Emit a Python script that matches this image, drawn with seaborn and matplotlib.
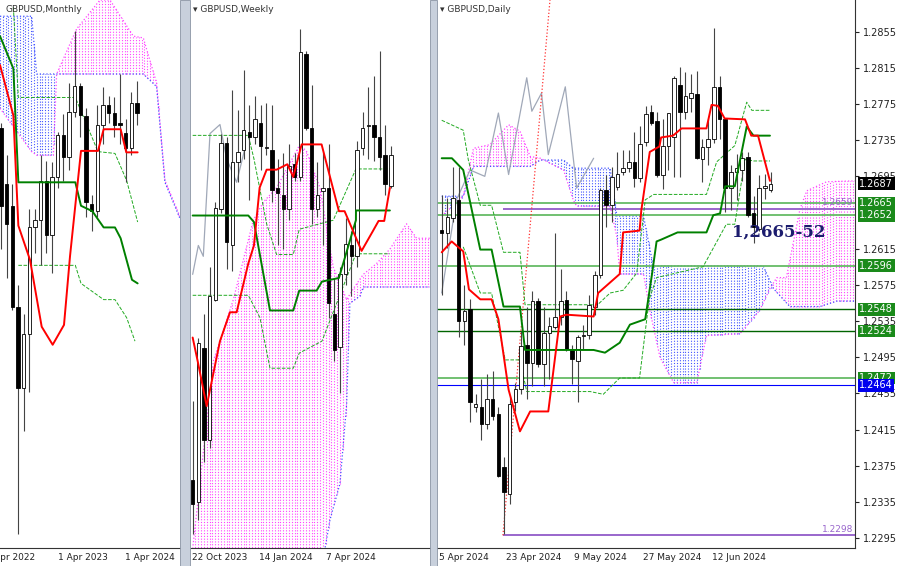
import numpy as np
import matplotlib
matplotlib.use("Agg")
import matplotlib.pyplot as plt
import matplotlib.transforms as mtransforms
import seaborn as sns

sns.set_style("white")
plt.rcParams['font.family'] = ['DejaVu Sans']

# ---------------- monthly ----------------
m_open  = [1.259, 1.228, 1.216, 1.160, 1.115, 1.145, 1.204, 1.208, 1.230, 1.200, 1.232, 1.255, 1.243,
           1.268, 1.2824, 1.266, 1.217, 1.213, 1.261, 1.2716, 1.2676, 1.262, 1.2564, 1.248, 1.273]
m_close = [1.216, 1.206, 1.160, 1.115, 1.145, 1.204, 1.208, 1.230, 1.200, 1.232, 1.255, 1.243, 1.268,
           1.2824, 1.2664, 1.218, 1.213, 1.261, 1.272, 1.2676, 1.261, 1.261, 1.248, 1.273, 1.2676]
m_high  = [1.262, 1.244, 1.228, 1.172, 1.156, 1.214, 1.214, 1.244, 1.241, 1.240, 1.257, 1.267, 1.284,
           1.313, 1.284, 1.270, 1.222, 1.272, 1.282, 1.277, 1.276, 1.289, 1.264, 1.279, 1.285]
m_low   = [1.192, 1.176, 1.158, 1.034, 1.091, 1.113, 1.190, 1.183, 1.190, 1.179, 1.226, 1.230, 1.236,
           1.265, 1.254, 1.210, 1.202, 1.210, 1.250, 1.262, 1.254, 1.250, 1.229, 1.244, 1.261]
m_tenkan_x = [-0.18, 2.18, 3.06, 5.12, 7.18, 9.12, 11.12, 12.18, 14.12, 17.12, 18.12, 21.12, 22.12, 24.12]
m_tenkan_y = [1.294, 1.266, 1.205, 1.186, 1.149, 1.139, 1.150, 1.188, 1.2464, 1.2464, 1.2584, 1.2584, 1.2456, 1.2456]
m_kijun_x = [-0.18, 2.18, 3.06, 13.12, 14.12, 16.12, 18.12, 20.12, 21.12, 23.12, 24.12]
m_kijun_y = [1.31, 1.292, 1.229, 1.229, 1.216, 1.213, 1.204, 1.204, 1.198, 1.175, 1.173]
m_up_x = [2.18, 3.06, 13.12, 15.12, 17.12, 20.12, 22.18, 24.12]
m_up_y = [1.326, 1.276, 1.276, 1.261, 1.246, 1.245, 1.230, 1.207]
m_lo_x = [3.06, 13.12, 14.12, 18.12, 20.12, 22.18, 23.65]
m_lo_y = [1.183, 1.183, 1.173, 1.164, 1.164, 1.154, 1.141]
m_cloud_x = [-0.18, 5.41, 6.29, 9.24, 9.82, 13.35, 17.47, 19.24, 23.35, 25.12, 27.47, 28.94, 31.59]
m_span_a = [1.27, 1.246, 1.244, 1.244, 1.289, 1.314, 1.33, 1.33, 1.31, 1.309, 1.284, 1.23, 1.21]
m_span_b = [1.321, 1.321, 1.289, 1.289, 1.289, 1.289, 1.289, 1.289, 1.289, 1.289, 1.282, 1.229, 1.209]

# ---------------- weekly ----------------
w_open  = [1.167, 1.161, 1.2035, 1.178, 1.217, 1.242, 1.2605, 1.232, 1.255, 1.2585, 1.2635, 1.262, 1.266, 1.259,
           1.2585, 1.248, 1.246, 1.242, 1.2545, 1.251, 1.285, 1.2645, 1.242, 1.247, 1.248, 1.213, 1.204, 1.224,
           1.232, 1.229, 1.259, 1.265, 1.2655, 1.262, 1.257, 1.2485]
w_close = [1.1605, 1.205, 1.178, 1.218, 1.2425, 1.2605, 1.233, 1.255, 1.258, 1.264, 1.262, 1.267, 1.2595, 1.2592,
           1.2475, 1.2465, 1.242, 1.254, 1.251, 1.2855, 1.2645, 1.242, 1.246, 1.248, 1.216, 1.203, 1.224, 1.2325,
           1.229, 1.2585, 1.2645, 1.2655, 1.262, 1.2565, 1.249, 1.257]
w_high  = [1.189, 1.2065, 1.213, 1.226, 1.244, 1.263, 1.262, 1.275, 1.2695, 1.2805, 1.271, 1.2735, 1.271, 1.2715,
           1.271, 1.256, 1.2575, 1.26, 1.2575, 1.292, 1.286, 1.2765, 1.255, 1.258, 1.26, 1.223, 1.226, 1.2395,
           1.236, 1.261, 1.269, 1.276, 1.279, 1.286, 1.2655, 1.2595]
w_low   = [1.152, 1.156, 1.172, 1.176, 1.2165, 1.241, 1.2255, 1.225, 1.2495, 1.256, 1.2445, 1.26, 1.253, 1.257,
           1.244, 1.232, 1.231, 1.239, 1.25, 1.25, 1.264, 1.238, 1.24, 1.232, 1.212, 1.20, 1.191, 1.221,
           1.218, 1.226, 1.257, 1.256, 1.2555, 1.253, 1.246, 1.248]
w_tenkan_x = [0, 0.88, 2.47, 4.82, 6.59, 7.76, 9.82, 10.82, 11.82, 13.06, 14.82, 16.71, 17.76, 19.24, 22.76,
              25.82, 26.82, 29.82, 31.82, 32.82, 33.82, 34.82]
w_tenkan_y = [1.2065, 1.20, 1.1875, 1.2055, 1.2135, 1.2135, 1.227, 1.232, 1.248, 1.253, 1.253, 1.2545, 1.251,
              1.26, 1.26, 1.2415, 1.2415, 1.2305, 1.236, 1.2388, 1.2388, 1.248]
w_kijun_x = [0, 9.82, 10.82, 13.65, 17.76, 18.82, 21.88, 22.82, 25.82, 28.82, 28.83, 34.82]
w_kijun_y = [1.2403, 1.2403, 1.2385, 1.214, 1.214, 1.2195, 1.2195, 1.222, 1.223, 1.239, 1.2417, 1.2417]
w_chikou_x = [0, 1, 1.88, 3.06, 4.82, 6, 7.76, 9.24]
w_chikou_y = [1.224, 1.232, 1.229, 1.263, 1.2655, 1.256, 1.2495, 1.259]
w_up_x = [0, 9.82, 10.82, 13.06, 14.82, 17.76, 18.82, 24.82, 28.82, 34.82]
w_up_y = [1.2625, 1.2625, 1.256, 1.238, 1.2295, 1.2295, 1.2365, 1.239, 1.2532, 1.2532]
w_lo_x = [0, 9.82, 11.88, 13.65, 17.76, 18.82, 22.82, 28.82, 34.82]
w_lo_y = [1.2182, 1.2182, 1.212, 1.198, 1.198, 1.2022, 1.2055, 1.2297, 1.2297]
w_a_x = [0, 3.65, 7.18, 10.71, 12.47, 14.82, 18.94, 20.12, 22.47, 24.82, 27.18, 28.35, 30.12, 32.47, 34.82,
         37.76, 39.53, 41.88]
w_span_a = [1.148, 1.20, 1.217, 1.239, 1.244, 1.248, 1.26, 1.258, 1.248, 1.226, 1.217, 1.22, 1.224, 1.227,
            1.231, 1.238, 1.234, 1.234]
w_b_x = [0, 22.47, 24.24, 26, 27.18, 27.76, 29.53, 30.12, 41.88]
w_span_b = [1.14, 1.14, 1.156, 1.166, 1.188, 1.216, 1.218, 1.2205, 1.2205]

# ---------------- daily ----------------
d_open  = [1.2636, 1.2632, 1.2649, 1.2669, 1.2535, 1.2548, 1.2440, 1.2440, 1.2421, 1.2449, 1.2432, 1.2374,
           1.2344, 1.2445, 1.2460, 1.2509, 1.2489, 1.2557, 1.2487, 1.2522, 1.2528, 1.2540, 1.2558, 1.2504,
           1.2491, 1.2518, 1.2520, 1.2551, 1.2586, 1.2680, 1.2663, 1.2683, 1.2700, 1.2704, 1.2711, 1.2693,
           1.2733, 1.2766, 1.2756, 1.2696, 1.2729, 1.2738, 1.2796, 1.2766, 1.2782, 1.2786, 1.2714, 1.2727,
           1.2736, 1.2794, 1.2758, 1.2682, 1.2700, 1.2702, 1.2716, 1.2654, 1.2637, 1.2682, 1.2680]
d_close = [1.2632, 1.2650, 1.2671, 1.2535, 1.2546, 1.2445, 1.2443, 1.2421, 1.2449, 1.2430, 1.2364, 1.2346,
           1.2443, 1.2460, 1.2507, 1.2489, 1.2557, 1.2487, 1.2522, 1.2529, 1.2540, 1.2557, 1.2504, 1.2493,
           1.2517, 1.2520, 1.2553, 1.2586, 1.2680, 1.2663, 1.2694, 1.2698, 1.2704, 1.2711, 1.2693, 1.2731,
           1.2764, 1.2754, 1.2696, 1.2729, 1.2765, 1.2804, 1.2766, 1.2784, 1.2787, 1.2715, 1.2727, 1.2736,
           1.2794, 1.2758, 1.2682, 1.2700, 1.2704, 1.2715, 1.2652, 1.2639, 1.2682, 1.2683, 1.2687]
d_high  = [1.2674, 1.2671, 1.2705, 1.2705, 1.2575, 1.2559, 1.2454, 1.2471, 1.2476, 1.2480, 1.2440, 1.2385,
           1.2451, 1.2467, 1.2524, 1.2550, 1.2568, 1.2561, 1.2551, 1.2539, 1.2632, 1.2592, 1.2568, 1.2509,
           1.2520, 1.2531, 1.2564, 1.2590, 1.2682, 1.2696, 1.2705, 1.2722, 1.2724, 1.2724, 1.2744, 1.2751,
           1.2773, 1.2774, 1.2766, 1.2758, 1.2765, 1.2806, 1.2816, 1.2810, 1.2808, 1.2812, 1.2736, 1.2758,
           1.2859, 1.2806, 1.2758, 1.2708, 1.2720, 1.2722, 1.2722, 1.2673, 1.2697, 1.2698, 1.2700]
d_low   = [1.2564, 1.2616, 1.2645, 1.2517, 1.2509, 1.2423, 1.2434, 1.2403, 1.2416, 1.2425, 1.2363, 1.2300,
           1.2333, 1.2436, 1.2454, 1.2449, 1.2463, 1.2484, 1.2463, 1.2471, 1.2526, 1.2531, 1.2502, 1.2465,
           1.2445, 1.2504, 1.2515, 1.2542, 1.2583, 1.2639, 1.2645, 1.2680, 1.2696, 1.2700, 1.2683, 1.2689,
           1.2729, 1.2752, 1.2694, 1.2681, 1.2702, 1.2694, 1.2694, 1.2758, 1.2766, 1.2714, 1.2689, 1.2707,
           1.2732, 1.2736, 1.2656, 1.2658, 1.2669, 1.2690, 1.2650, 1.2621, 1.2635, 1.2670, 1.2678]
d_tenkan_x = [0, 1.76, 3.8, 4.8, 6.8, 8.8, 10, 11.8, 13.8, 15.6, 18.8, 20.9, 22, 26.8, 27.6, 31.4, 32,
              34.9, 35.2, 36.7, 38.4, 38.7, 40.8, 42.3, 46.7, 47.6, 48.7, 49.9, 53.5, 54.6, 55.8, 57.9]
d_tenkan_y = [1.2611, 1.2623, 1.2612, 1.2570, 1.2559, 1.2559, 1.2537, 1.2459, 1.2413, 1.2435, 1.2435, 1.2540,
              1.2542, 1.2540, 1.2566, 1.2587, 1.2633, 1.2635, 1.2657, 1.2722, 1.2728, 1.2738, 1.2740, 1.2748,
              1.2748, 1.2774, 1.2773, 1.2759, 1.2758, 1.2740, 1.2740, 1.2690]
d_kijun_x = [0, 1.8, 3.8, 6.8, 8.8, 10.9, 13.8, 14.7, 26.8, 28.8, 31.4, 33.2, 35.9, 37.1, 37.9, 38.7, 41.6,
             46.7, 47.9, 49.1, 50, 51.7, 53.8, 55, 57.9]
d_kijun_y = [1.2715, 1.2715, 1.2702, 1.2614, 1.2614, 1.2551, 1.2551, 1.2503, 1.2503, 1.2500, 1.2511, 1.2531,
             1.2537, 1.2587, 1.2623, 1.2625, 1.2633, 1.2633, 1.2652, 1.2654, 1.2684, 1.2684, 1.2750, 1.2740,
             1.2740]
d_chikou_x = [0, 2.6, 5, 7.6, 10, 11.8, 15, 15.9, 17.6, 18.8, 21.8, 23.8, 26.8]
d_chikou_y = [1.2566, 1.2669, 1.2702, 1.2695, 1.2765, 1.2697, 1.2804, 1.2767, 1.2787, 1.2719, 1.2794,
              1.2682, 1.2715]
d_up_x = [0, 3.8, 4.7, 6.8, 8.8, 10.9, 13.8, 14.7, 27.5, 29.7, 32, 34.4, 35.9, 37.4, 46.7, 48.5, 51.7,
          53.8, 54.7, 57.9]
d_up_y = [1.2757, 1.2746, 1.2713, 1.2663, 1.2663, 1.2611, 1.2611, 1.2553, 1.2553, 1.2566, 1.2569, 1.2588,
          1.2669, 1.2675, 1.2675, 1.2711, 1.2729, 1.2777, 1.2768, 1.2768]
d_lo_x = [3.8, 6.8, 8.8, 11.2, 13.8, 15, 26.2, 28.5, 31.4, 34.9, 36.6, 37.9, 46.1, 50.2, 51.7, 53.5, 55, 57.9]
d_lo_y = [1.2617, 1.2566, 1.2566, 1.2492, 1.2492, 1.2457, 1.2457, 1.2454, 1.2472, 1.2472, 1.2559, 1.2583,
          1.2595, 1.2642, 1.2642, 1.2714, 1.2712, 1.2712]
d_a_x = [0, 3.8, 5.6, 8.5, 11.8, 13.8, 15.6, 17.4, 21.5, 23.2, 23.8, 29.7, 30.9, 31.4, 35.6, 36.7, 38.5,
         40.9, 45.0, 46.7, 52.6, 56.1, 57.9, 59.1, 60.8, 63.2, 64.4, 67.9, 72.9]
d_span_a = [1.2651, 1.2673, 1.2726, 1.2730, 1.2752, 1.2745, 1.2717, 1.2715, 1.2702, 1.2669, 1.2662, 1.2662,
            1.2628, 1.2587, 1.2587, 1.2547, 1.2495, 1.2467, 1.2467, 1.2519, 1.2521, 1.2547, 1.2571, 1.2583,
            1.2583, 1.2659, 1.2679, 1.2689, 1.2690]
d_b_x = [0, 3.8, 5.6, 15.6, 17.4, 21.5, 23.2, 29.7, 30.9, 35.6, 37.3, 56.7, 58.5, 61.4, 66.7, 69.7, 72.9]
d_span_b = [1.2673, 1.2673, 1.2706, 1.2706, 1.2713, 1.2713, 1.2704, 1.2704, 1.2651, 1.2651, 1.2596, 1.2596,
            1.2571, 1.2551, 1.2551, 1.2557, 1.2557]
d_ticks = [1.2855, 1.2815, 1.2775, 1.2735, 1.2695, 1.2615, 1.2575, 1.2535, 1.2495, 1.2455, 1.2415,
           1.2375, 1.2335, 1.2295]
green_levels = [1.2665, 1.2652, 1.2596, 1.2548, 1.2524, 1.2472]
blue_level = 1.2464
purple_levels = [1.2659, 1.2298]
last_price = 1.2687

W, H = 900, 566
fig = plt.figure(figsize=(9, 5.66), dpi=100)


def px_axes(x0, x1):
    return fig.add_axes([x0 / W, 18 / H, (x1 - x0) / W, 548 / H])


def candles(ax, o, c, h, l):
    x = np.arange(len(o))
    o, c = np.array(o), np.array(c)
    ax.vlines(x, l, h, color='#444444', lw=0.8, zorder=4)
    bottom = np.minimum(o, c)
    height = np.maximum(np.abs(c - o), 0.0002)
    faces = ['white' if cc >= oo else 'black' for oo, cc in zip(o, c)]
    ax.bar(x, height, bottom=bottom, width=0.62, color=faces, edgecolor='black', lw=0.6, zorder=5)


def cloud(ax, ax_x, a_y, b_x, b_y, x0, x1, step=0.5):
    g = np.arange(x0, x1, step)
    a = np.interp(g, ax_x, a_y)
    b = np.interp(g, b_x, b_y)
    cols = np.where(a >= b, '#ff44ff', '#4455ff')
    ax.vlines(g, np.minimum(a, b), np.maximum(a, b), colors=cols, linestyles=(0, (1, 1.5)), lw=0.8, zorder=1)
    ax.plot(ax_x, a_y, color='#ff44ff', ls=':', lw=0.9, zorder=1)
    ax.plot(b_x, b_y, color='#4455ff', ls=':', lw=0.9, zorder=1)


def lines(ax, tx, ty, kx, ky, ux, uy, lx, ly):
    ax.plot(ux, uy, color='#22aa22', ls='--', lw=0.7, zorder=3)
    ax.plot(lx, ly, color='#22aa22', ls='--', lw=0.7, zorder=3)
    sns.lineplot(x=kx, y=ky, ax=ax, color='#008000', lw=1.4, zorder=6, sort=False)
    sns.lineplot(x=tx, y=ty, ax=ax, color='#ff0000', lw=1.4, zorder=6, sort=False)


def style(ax, xl, yl):
    ax.set_xlim(*xl)
    ax.set_ylim(*yl)
    ax.set_xticks([])
    ax.set_yticks([])
    for s in ['top', 'left', 'right']:
        ax.spines[s].set_visible(False)
    ax.spines['bottom'].set_color('#333333')
    ax.set_xlabel('')
    ax.set_ylabel('')


# monthly
axm = px_axes(0, 180)
cloud(axm, m_cloud_x, m_span_a, m_cloud_x, m_span_b, -0.18, 31.6)
candles(axm, m_open, m_close, m_high, m_low)
lines(axm, m_tenkan_x, m_tenkan_y, m_kijun_x, m_kijun_y, m_up_x, m_up_y, m_lo_x, m_lo_y)
style(axm, (-0.18, 31.6), (1.0264, 1.33))

# weekly
axw = px_axes(190, 430)
cloud(axw, w_a_x, w_span_a, w_b_x, w_span_b, 0, 41.9)
axw.plot(w_chikou_x, w_chikou_y, color='#a0a8b8', lw=0.9, zorder=2)
candles(axw, w_open, w_close, w_high, w_low)
lines(axw, w_tenkan_x, w_tenkan_y, w_kijun_x, w_kijun_y, w_up_x, w_up_y, w_lo_x, w_lo_y)
style(axw, (-0.47, 41.9), (1.1482, 1.30))

# daily
axd = px_axes(437, 855)
cloud(axd, d_a_x, d_span_a, d_b_x, d_span_b, 0, 72.9)
axd.plot(d_chikou_x, d_chikou_y, color='#a0a8b8', lw=0.9, zorder=2)
for lv in green_levels:
    c = '#006400' if lv in (1.2524, 1.2548) else '#66bb66'
    axd.axhline(lv, color=c, lw=1.0 if c == '#006400' else 1.3, zorder=2)
axd.axhline(blue_level, color='#0000ff', lw=0.8, zorder=2)
for lv in purple_levels:
    axd.hlines(lv, 10.8, 72.9, color='#9966cc', lw=1.4, zorder=2)
    axd.text(72.6, lv + 0.0002, f'{lv:.4f}', color='#9966cc', fontsize=6.5, ha='right', va='bottom')
axd.plot([10.8, 19.1], [1.2298, 1.2890], color='#ff3333', ls=':', lw=0.9, zorder=3)
candles(axd, d_open, d_close, d_high, d_low)
lines(axd, d_tenkan_x, d_tenkan_y, d_kijun_x, d_kijun_y, d_up_x, d_up_y, d_lo_x, d_lo_y)
style(axd, (-0.83, 72.9), (1.2284, 1.2890))
axd.spines['right'].set_visible(True)
axd.spines['right'].set_color('#333333')
axd.yaxis.tick_right()
axd.set_yticks(d_ticks)
axd.set_yticklabels([f'{t:.4f}' for t in d_ticks], fontsize=7)
axd.tick_params(axis='y', length=3, pad=3, colors='#222222')
tr = mtransforms.blended_transform_factory(axd.transAxes, axd.transData)
for lv in green_levels:
    axd.text(1.01, lv, f'{lv:.4f}', transform=tr, fontsize=7, color='white', va='center', ha='left',
             bbox=dict(boxstyle='square,pad=0.15', fc='#1a8a1a', ec='none'), clip_on=False, zorder=10)
axd.text(1.01, blue_level, f'{blue_level:.4f}', transform=tr, fontsize=7, color='white', va='center',
         ha='left', bbox=dict(boxstyle='square,pad=0.15', fc='#0000ee', ec='none'), clip_on=False, zorder=10)
axd.text(1.01, last_price, f'{last_price:.4f}', transform=tr, fontsize=7, color='white', va='center',
         ha='left', bbox=dict(boxstyle='square,pad=0.15', fc='black', ec='none'), clip_on=False, zorder=10)
axd.text(0.93, 1.2633, '1,2665-52', transform=tr, fontsize=12, color='#1c1c6e', fontweight='bold',
         family='DejaVu Serif', ha='right', va='center', zorder=10)

# panel separators
for x0, x1 in [(180, 190), (430, 437)]:
    fig.patches.append(plt.Rectangle((x0 / W, 0), (x1 - x0) / W, 1, transform=fig.transFigure,
                                     fc='#c8d0dc', ec='#8a94a4', lw=0.6))

# titles and date labels
fig.text(5 / W, 1 - 9 / H, 'GBPUSD,Monthly', fontsize=6.5, color='#333333', va='center')
fig.text(193 / W, 1 - 9 / H, '\u25be GBPUSD,Weekly', fontsize=6.5, color='#333333', va='center')
fig.text(440 / W, 1 - 9 / H, '\u25be GBPUSD,Daily', fontsize=6.5, color='#333333', va='center')
date_labels = [(-6, 'Apr 2022'), (58, '1 Apr 2023'), (125, '1 Apr 2024'), (192, '22 Oct 2023'),
               (259, '14 Jan 2024'), (326, '7 Apr 2024'), (439, '5 Apr 2024'), (506, '23 Apr 2024'),
               (574, '9 May 2024'), (643, '27 May 2024'), (712, '12 Jun 2024')]
for xp, lab in date_labels:
    fig.text(xp / W, 1 - 558 / H, lab, fontsize=6.5, color='#222222', va='center', ha='left')

fig.savefig('out.png', dpi=100)
